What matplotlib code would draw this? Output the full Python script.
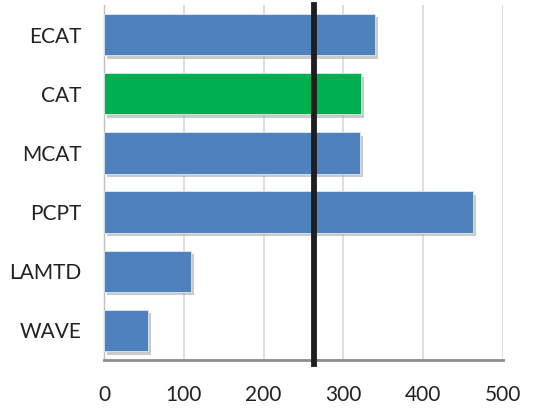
import matplotlib.pyplot as plt
import matplotlib.patheffects as pe

plt.rcParams['font.family'] = ['Lato', 'DejaVu Sans']

# Data
methods = ['ECAT', 'CAT', 'MCAT', 'PCPT', 'LAMTD', 'WAVE']
values = [340, 322, 321, 463, 109, 55]
colors = ['#4F81BD', '#00B050', '#4F81BD', '#4F81BD', '#4F81BD', '#4F81BD']
threshold = 263

fig = plt.figure(figsize=(5.34, 4.08), dpi=100)
ax = fig.add_axes([104 / 534, 48 / 408, 399 / 534, 355 / 408])

ypos = list(range(len(methods)))[::-1]
shadow = [pe.SimplePatchShadow(offset=(2, -2.5), shadow_rgbFace='#a0a0a0', alpha=0.55), pe.Normal()]
bars = ax.barh(ypos, values, height=0.7, color=colors, edgecolor='#dfe7f1',
               linewidth=0.6, zorder=3)
for b in bars:
    b.set_path_effects(shadow)

ax.axvline(threshold, ymin=-0.012, ymax=1, color='#1e1e1e', linewidth=4.2,
           zorder=5, clip_on=False)

ax.set_xlim(0, 500)
ax.set_ylim(-0.5, len(methods) - 0.5)
ax.set_xticks([0, 100, 200, 300, 400, 500])
ax.set_yticks(ypos)
ax.set_yticklabels(methods)

ax.grid(axis='x', color='#d9d9d9', linewidth=1.2, zorder=0)
ax.set_axisbelow(True)
for s in ['top', 'right']:
    ax.spines[s].set_visible(False)
ax.spines['left'].set_color('#bfbfbf')
ax.spines['left'].set_linewidth(1.0)
ax.spines['bottom'].set_color('#8c8c8c')
ax.spines['bottom'].set_linewidth(2.0)

ax.tick_params(axis='both', length=0, labelsize=15, colors='#222222')
ax.tick_params(axis='y', pad=16)
ax.tick_params(axis='x', pad=18)

fig.savefig('out.png', dpi=100)
